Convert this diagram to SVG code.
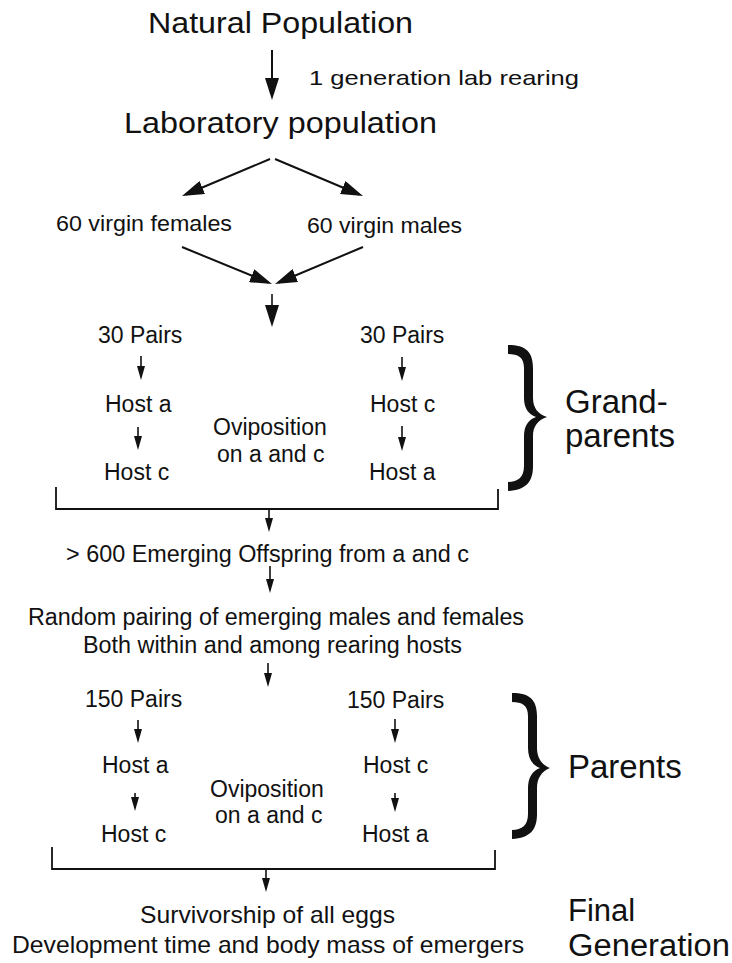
<svg xmlns="http://www.w3.org/2000/svg" width="732" height="963" viewBox="0 0 732 963">
<style>
  text { font-family: "Liberation Sans", Arial, Helvetica, sans-serif; fill: #111; }
  .title { font-size: 29px; }
  .mid { font-size: 22px; }
  .lab { font-size: 23px; }
  .big { font-size: 33px; }
  .fin { font-size: 31px; }
  .bot { font-size: 24px; }
  .side { font-size: 21px; }
  .ln { stroke: #111; stroke-width: 2; fill: none; }
  .sl { stroke: #111; stroke-width: 1.6; fill: none; }
  .brk { stroke: #111; stroke-width: 1.8; fill: none; }
  .brace { fill: #111; }
</style>
<defs>
  <marker id="ah" viewBox="0 0 22 14" refX="18" refY="7" markerWidth="22" markerHeight="14" orient="auto" markerUnits="userSpaceOnUse">
    <path d="M0,0 L22,7 L0,14 z" fill="#111"/>
  </marker>
  <marker id="as" viewBox="0 0 14 8" refX="11" refY="4" markerWidth="14" markerHeight="8" orient="auto" markerUnits="userSpaceOnUse">
    <path d="M0,0 L14,4 L0,8 z" fill="#111"/>
  </marker>
</defs>
<rect width="732" height="963" fill="#fff"/>

<g id="connectors">
  <line class="ln" x1="272" y1="50" x2="272" y2="96" marker-end="url(#ah)"/>
  <line class="ln" x1="270" y1="159" x2="185.7" y2="194.5" marker-end="url(#ah)"/>
  <line class="ln" x1="275" y1="159" x2="359.3" y2="194.5" marker-end="url(#ah)"/>
  <line class="ln" x1="182" y1="247" x2="268.3" y2="282.5" marker-end="url(#ah)"/>
  <line class="ln" x1="363" y1="247" x2="278.7" y2="282.5" marker-end="url(#ah)"/>
  <line class="sl" x1="272" y1="294" x2="272" y2="323" marker-end="url(#ah)"/>

  <line class="sl" x1="141" y1="356" x2="141" y2="377" marker-end="url(#as)"/>
  <line class="sl" x1="138" y1="427" x2="138" y2="447" marker-end="url(#as)"/>
  <line class="sl" x1="402" y1="357" x2="402" y2="378" marker-end="url(#as)"/>
  <line class="sl" x1="402" y1="426" x2="402" y2="448" marker-end="url(#as)"/>

  <path class="brk" d="M56 487 V509 H498 V489"/>
  <line class="sl" x1="269" y1="509" x2="269" y2="529" marker-end="url(#as)"/>
  <line class="sl" x1="270" y1="566" x2="270" y2="590" marker-end="url(#as)"/>
  <line class="sl" x1="268" y1="663" x2="268" y2="684" marker-end="url(#as)"/>

  <line class="sl" x1="138" y1="720" x2="138" y2="740" marker-end="url(#as)"/>
  <line class="sl" x1="135" y1="793" x2="135" y2="808" marker-end="url(#as)"/>
  <line class="sl" x1="395" y1="719" x2="395" y2="740" marker-end="url(#as)"/>
  <line class="sl" x1="395" y1="793" x2="395" y2="809" marker-end="url(#as)"/>

  <path class="brk" d="M52 847 V869 H495 V850"/>
  <line class="sl" x1="266" y1="869" x2="266" y2="889" marker-end="url(#as)"/>
</g>

<g id="natural"><text class="title" x="148" y="33" textLength="265" lengthAdjust="spacingAndGlyphs">Natural Population</text></g>
<g id="rearing-label"><text class="side" x="309" y="85" textLength="270" lengthAdjust="spacingAndGlyphs">1 generation lab rearing</text></g>
<g id="laboratory"><text class="title" x="124" y="133" textLength="313" lengthAdjust="spacingAndGlyphs">Laboratory population</text></g>
<g id="females"><text class="mid" x="56" y="231" textLength="176" lengthAdjust="spacingAndGlyphs">60 virgin females</text></g>
<g id="males"><text class="mid" x="307" y="233" textLength="155" lengthAdjust="spacingAndGlyphs">60 virgin males</text></g>

<g id="gp-left">
  <text class="lab" x="98" y="343">30 Pairs</text>
  <text class="lab" x="105" y="412">Host a</text>
  <text class="lab" x="104" y="480">Host c</text>
</g>
<g id="gp-ovi">
  <text class="lab" x="213" y="435">Oviposition</text>
  <text class="lab" x="217" y="462">on a and c</text>
</g>
<g id="gp-right">
  <text class="lab" x="360" y="343">30 Pairs</text>
  <text class="lab" x="370" y="412">Host c</text>
  <text class="lab" x="369" y="480">Host a</text>
</g>
<g id="gp-brace">
  <path class="brace" d="M508 345 C526 345 533 352 533 368 L533 398 C533 408 538 414 547 417 C538 420 533 426 533 436 L533 466 C533 482 526 490 508 491 L508 482 C518 482 524 477 524 466 L524 436 C524 426 528 420 536 417 C528 414 524 408 524 398 L524 368 C524 357 518 354 508 354 Z"/>
  <text class="big" x="565" y="413">Grand-</text>
  <text class="big" x="565" y="447">parents</text>
</g>

<g id="offspring"><text class="lab" x="66" y="562" textLength="403" lengthAdjust="spacingAndGlyphs">&gt; 600 Emerging Offspring from a and c</text></g>
<g id="random">
  <text class="lab" x="28" y="625" textLength="496" lengthAdjust="spacingAndGlyphs">Random pairing of emerging males and females</text>
  <text class="lab" x="83" y="653" textLength="379" lengthAdjust="spacingAndGlyphs">Both within and among rearing hosts</text>
</g>

<g id="p-left">
  <text class="lab" x="85" y="707">150 Pairs</text>
  <text class="lab" x="102" y="773">Host a</text>
  <text class="lab" x="101" y="842">Host c</text>
</g>
<g id="p-ovi">
  <text class="lab" x="210" y="797">Oviposition</text>
  <text class="lab" x="215" y="823">on a and c</text>
</g>
<g id="p-right">
  <text class="lab" x="347" y="708">150 Pairs</text>
  <text class="lab" x="363" y="773">Host c</text>
  <text class="lab" x="362" y="842">Host a</text>
</g>
<g id="p-brace">
  <path class="brace" d="M512 693 C530 693 537 700 537 716 L537 748 C537 758 542 765 550 768 C542 771 537 778 537 788 L537 814 C537 830 530 838 512 839 L512 830 C522 830 528 825 528 814 L528 788 C528 778 532 771 540 768 C532 765 528 758 528 748 L528 716 C528 705 522 702 512 702 Z"/>
  <text class="big" x="568" y="778">Parents</text>
</g>

<g id="final">
  <text class="bot" x="140" y="923" textLength="255" lengthAdjust="spacingAndGlyphs">Survivorship of all eggs</text>
  <text class="bot" x="12" y="953" textLength="512" lengthAdjust="spacingAndGlyphs">Development time and body mass of emergers</text>
  <text class="fin" x="568" y="921">Final</text>
  <text class="fin" x="568" y="956" textLength="162" lengthAdjust="spacingAndGlyphs">Generation</text>
</g>
</svg>
